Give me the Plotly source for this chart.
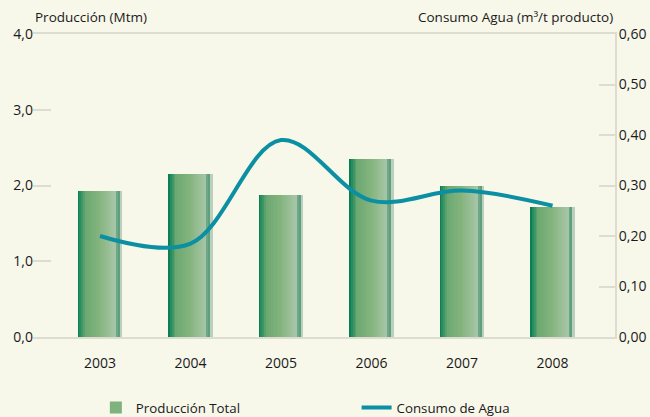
import plotly.graph_objects as go

years = ["2003", "2004", "2005", "2006", "2007", "2008"]
produccion = [1.93, 2.15, 1.87, 2.35, 2.00, 1.72]
consumo_agua = [0.20, 0.185, 0.39, 0.27, 0.29, 0.26]

BG = "#f7f7ea"
GRID = "#dcdcd2"
FONT = "Open Sans"
FS_TICK = 14
FS_TITLE = 13.5
FS_LEG = 13.3

# horizontal gradient of the bars, built as narrow bar stripes
stops = [
    (0.00, (0, 118, 80)), (0.05, (30, 138, 92)), (0.18, (108, 168, 114)),
    (0.50, (132, 180, 126)), (0.78, (160, 194, 158)), (0.88, (168, 198, 170)),
    (0.90, (95, 160, 128)), (0.96, (92, 158, 126)), (0.98, (190, 210, 192)),
    (1.00, (200, 215, 200)),
]

def color_at(t):
    for (t0, c0), (t1, c1) in zip(stops[:-1], stops[1:]):
        if t0 <= t <= t1:
            f = (t - t0) / (t1 - t0) if t1 > t0 else 0
            return "rgb(%d,%d,%d)" % tuple(round(a + (b - a) * f) for a, b in zip(c0, c1))
    return "rgb(%d,%d,%d)" % stops[-1][1]

BAR_W = 0.485
N = 24
sw = BAR_W / N
LEG_I = 10

fig = go.Figure()
for i in range(N):
    t = (i + 0.5) / N
    fig.add_trace(go.Bar(
        x=years, y=produccion, width=sw * 1.08, offset=-BAR_W / 2 + i * sw,
        marker=dict(color=color_at(t), line=dict(width=0)),
        name="Producción Total", showlegend=(i == LEG_I), legend="legend",
        hoverinfo="skip" if i != LEG_I else None,
    ))

fig.add_trace(go.Scatter(
    x=years, y=consumo_agua, yaxis="y2", mode="lines",
    line=dict(color="#0b8fa2", width=4, shape="spline", smoothing=1.0),
    name="Consumo de Agua", legend="legend2",
))

fig.update_layout(
    width=650, height=417,
    margin=dict(l=33, r=35, t=34, b=80, autoexpand=False),
    paper_bgcolor=BG, plot_bgcolor=BG,
    barmode="overlay", bargap=0,
    separators=",.",
    font=dict(family=FONT, size=FS_TICK, color="#1a1a1a"),
    xaxis=dict(
        type="category", range=[-0.74, 5.69], automargin=False,
        showline=True, linecolor=GRID, linewidth=2, mirror=True,
        ticks="", showgrid=False, zeroline=False,
        tickfont=dict(size=FS_TICK), ticklabelstandoff=12,
    ),
    yaxis=dict(
        range=[0, 4], dtick=1, tickformat=".1f", automargin=False,
        ticks="inside", ticklen=18, tickcolor=GRID, tickwidth=2,
        showgrid=False, zeroline=False, showline=False,
        tickfont=dict(size=FS_TICK), ticklabelstandoff=-1,
    ),
    yaxis2=dict(
        range=[0, 0.6], dtick=0.1, tickformat=".2f", automargin=False,
        overlaying="y", side="right",
        ticks="inside", ticklen=16, tickcolor=GRID, tickwidth=2,
        showgrid=False, zeroline=False,
        showline=True, linecolor=GRID, linewidth=2,
        tickfont=dict(size=FS_TICK), ticklabelstandoff=-1,
    ),
    legend=dict(
        orientation="h", x=0.108, yref="container", y=0.022,
        xanchor="left", yanchor="middle",
        bgcolor="rgba(0,0,0,0)", font=dict(size=FS_LEG),
    ),
    legend2=dict(
        orientation="h", x=0.556, yref="container", y=0.022,
        xanchor="left", yanchor="middle",
        bgcolor="rgba(0,0,0,0)", font=dict(size=FS_LEG),
    ),
    annotations=[
        dict(text="Producción (Mtm)", xref="paper", yref="paper", x=0, y=1,
             xanchor="left", yanchor="bottom", yshift=6, showarrow=False,
             font=dict(size=FS_TITLE)),
        dict(text="Consumo Agua (m³/t producto)", xref="paper", yref="paper",
             x=1, y=1, xanchor="right", yanchor="bottom", yshift=6, showarrow=False,
             font=dict(size=FS_TITLE)),
    ],
)

fig.write_html("out.html", config={"displayModeBar": False},
               post_script="document.body.style.margin='0px';")
